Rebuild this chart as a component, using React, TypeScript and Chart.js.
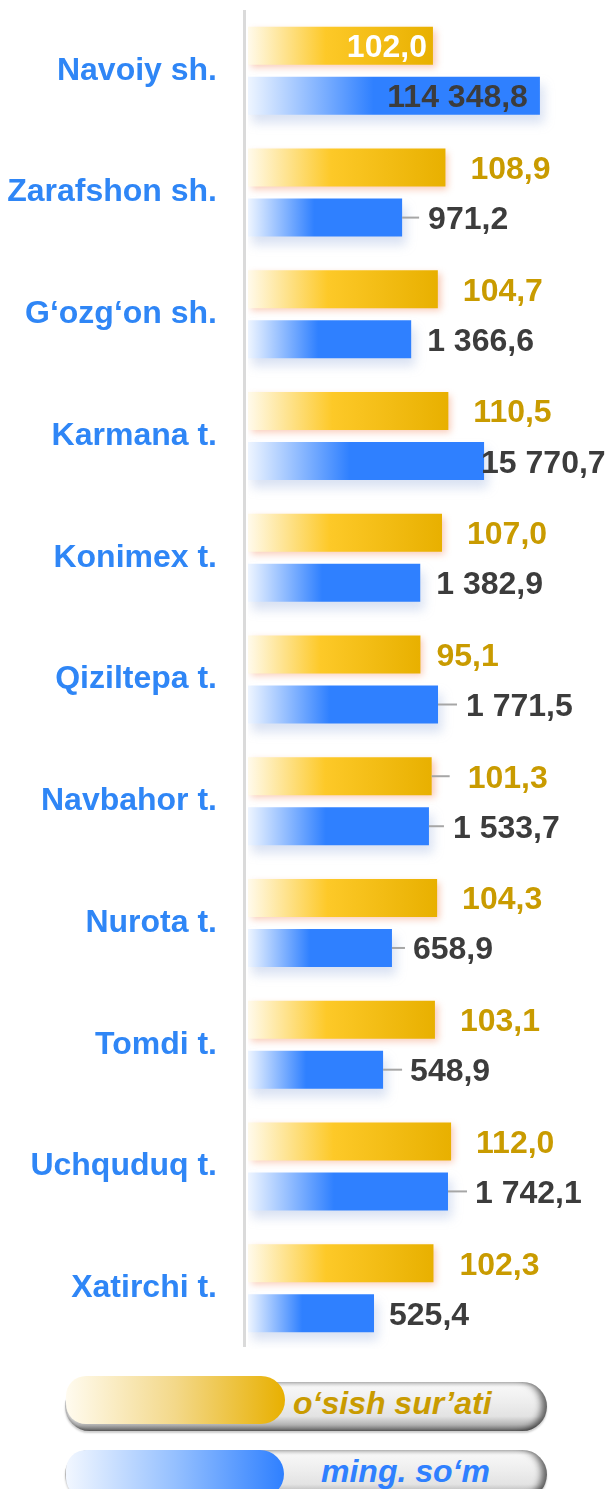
import React, { useEffect, useRef } from "react";
import { Chart, registerables } from "chart.js";

Chart.register(...registerables);

// ---------- data ----------
const categories = [
  "Navoiy sh.",
  "Zarafshon sh.",
  "G‘ozg‘on sh.",
  "Karmana t.",
  "Konimex t.",
  "Qiziltepa t.",
  "Navbahor t.",
  "Nurota t.",
  "Tomdi t.",
  "Uchquduq t.",
  "Xatirchi t.",
];

// o‘sish sur’ati (growth rate, %)
const growthRate = [102.0, 108.9, 104.7, 110.5, 107.0, 95.1, 101.3, 104.3, 103.1, 112.0, 102.3];

// ming. so‘m (thousand sum) – values as printed
const amountValues = [114348.8, 971.2, 1366.6, 15770.7, 1382.9, 1771.5, 1533.7, 658.9, 548.9, 1742.1, 525.4];

// blue bar lengths as drawn in the picture (not proportional to the amounts),
// expressed in the same axis units as the growth bars
const amountBarLength = [161, 85, 90, 130.2, 95, 104.8, 99.8, 79.4, 74.5, 110.3, 69.5];

const xAxisMax = 198;

const seriesNames = ["o‘sish sur’ati", "ming. so‘m"];

// ---------- label placement (layout, not data) ----------
// [mode, gap px, leader px]
const growthLabelPlacement: [string, number, number][] = [
  ["in", 6, 0], ["out", 25, 0], ["out", 25, 0], ["out", 25, 0], ["out", 25, 0], ["out", 16, 0],
  ["out", 36, 18], ["out", 25, 0], ["out", 25, 0], ["out", 25, 0], ["out", 26, 0],
];
const amountLabelPlacement: [string, number, number][] = [
  ["in", 12, 0], ["out", 26, 17], ["out", 16, 0], ["out", -3, 0], ["out", 16, 0], ["out", 28, 19],
  ["out", 24, 15], ["out", 21, 13], ["out", 27, 19], ["out", 27, 19], ["out", 15, 0],
];

// ---------- styles ----------
const FONT = '"Liberation Sans", Arial, sans-serif';
const FS = 32;
const LABEL_BLUE = "#2f86f6";
const GOLD_TEXT = "#c99b00";
const DARK_TEXT = "#3c3c3c";

const yellowStops: [number, string][] = [
  [0, "#fffaeb"],
  [0.42, "#fdc928"],
  [1, "#e8b000"],
];
const blueStops: [number, string][] = [
  [0, "#eef5ff"],
  [0.43, "#2f80ff"],
  [1, "#2f80ff"],
];

const fmt = (v: number) => {
  const [i, d] = v.toFixed(1).split(".");
  const withSpaces = i.replace(/\B(?=(\d{3})+(?!\d))/g, " ");
  return withSpaces + "," + d;
};

function barGradient(stops: [number, string][]) {
  return (ctx: any) => {
    const chart = ctx.chart;
    const area = chart.chartArea;
    if (!area || ctx.type !== "data") return stops[stops.length - 1][1];
    const xs = chart.scales.x;
    const x0 = xs.getPixelForValue(0);
    const x1 = xs.getPixelForValue(ctx.raw);
    const g = chart.ctx.createLinearGradient(x0, 0, Math.max(x1, x0 + 1), 0);
    stops.forEach(([o, c]) => g.addColorStop(o, c));
    return g;
  };
}

const axisLinePlugin = {
  id: "axisLine",
  beforeDatasetsDraw(chart: any) {
    const c = chart.ctx;
    const a = chart.chartArea;
    c.save();
    c.strokeStyle = "#dadada";
    c.lineWidth = 3;
    c.beginPath();
    c.moveTo(a.left - 3.5, a.top);
    c.lineTo(a.left - 3.5, a.bottom - 2);
    c.stroke();
    c.restore();
  },
};

const shadowPlugin = {
  id: "barShadow",
  beforeDatasetDraw(chart: any, args: any) {
    const c = chart.ctx;
    c.save();
    if (args.index === 0) {
      c.shadowColor = "rgba(240,120,70,0.38)";
      c.shadowBlur = 7;
      c.shadowOffsetX = 3;
      c.shadowOffsetY = 3;
    } else {
      c.shadowColor = "rgba(120,150,210,0.28)";
      c.shadowBlur = 10;
      c.shadowOffsetX = 4;
      c.shadowOffsetY = 8;
    }
  },
  afterDatasetDraw(chart: any) {
    chart.ctx.restore();
  },
};

const valueLabelPlugin = {
  id: "valueLabels",
  afterDatasetsDraw(chart: any) {
    const c = chart.ctx;
    c.save();
    c.font = `bold ${FS}px ${FONT}`;
    c.textBaseline = "alphabetic";
    const capHalf = FS * 0.358;
    [0, 1].forEach((di) => {
      const meta = chart.getDatasetMeta(di);
      meta.data.forEach((el: any, i: number) => {
        const text = di === 0 ? fmt(growthRate[i]) : fmt(amountValues[i]);
        const [mode, gap, leader] = di === 0 ? growthLabelPlacement[i] : amountLabelPlacement[i];
        const xEnd = el.x;
        const y = el.y;
        if (leader > 0) {
          c.strokeStyle = "#a6a6a6";
          c.lineWidth = 2;
          c.beginPath();
          c.moveTo(xEnd, y);
          c.lineTo(xEnd + leader, y);
          c.stroke();
        }
        if (mode === "in") {
          c.textAlign = "right";
          c.fillStyle = di === 0 ? "#ffffff" : DARK_TEXT;
          c.fillText(text, xEnd - gap, y + capHalf);
        } else {
          c.textAlign = "left";
          c.fillStyle = di === 0 ? GOLD_TEXT : DARK_TEXT;
          c.fillText(text, xEnd + gap, y + capHalf);
        }
      });
    });
    c.restore();
  },
};

function LegendPill(props: {
  top: number;
  blockTop: number;
  stops: [number, string][];
  blockWidth: number;
  text: string;
  color: string;
  textLeft: number;
  textTop: number;
}) {
  const grad =
    "linear-gradient(to right, " + props.stops.map(([o, c]) => `${c} ${o * 100}%`).join(", ") + ")";
  return (
    <>
      <div
        style={{
          position: "absolute",
          left: 65,
          top: props.top,
          width: 482,
          height: 49,
          borderRadius: 25,
          background:
            "linear-gradient(to bottom, #cfcfcf 0%, #f7f7f7 10%, #eeeeee 40%, #e3e3e3 70%, #b5b5b5 87%, #767676 100%)",
          boxShadow:
            "inset -7px -1px 7px -2px rgba(0,0,0,0.6), inset 3px 0 3px -1px rgba(0,0,0,0.25), 0 2px 2px rgba(0,0,0,0.2)",
        }}
      />
      <div
        style={{
          position: "absolute",
          left: 66,
          top: props.blockTop,
          width: props.blockWidth,
          height: 48,
          borderRadius: "20px 24px 24px 20px",
          background: grad,
        }}
      />
      <div
        style={{
          position: "absolute",
          left: props.textLeft,
          top: props.textTop,
          font: `italic bold ${FS}px ${FONT}`,
          lineHeight: `${FS}px`,
          color: props.color,
          whiteSpace: "nowrap",
        }}
      >
        {props.text}
      </div>
    </>
  );
}

export default function App() {
  const canvasRef = useRef<HTMLCanvasElement | null>(null);

  useEffect(() => {
    if (!canvasRef.current) return;
    const chart = new Chart(canvasRef.current, {
      type: "bar",
      data: {
        labels: categories,
        datasets: [
          {
            label: seriesNames[0],
            data: growthRate,
            backgroundColor: barGradient(yellowStops) as any,
            borderWidth: 0,
            barPercentage: 0.76,
            categoryPercentage: 0.8217,
          },
          {
            label: seriesNames[1],
            data: amountBarLength,
            backgroundColor: barGradient(blueStops) as any,
            borderWidth: 0,
            barPercentage: 0.76,
            categoryPercentage: 0.8217,
          },
        ],
      },
      options: {
        indexAxis: "y",
        responsive: false,
        animation: false,
        devicePixelRatio: 1,
        layout: { padding: { top: 10, bottom: 11, left: 0, right: 0 } },
        plugins: {
          legend: { display: false },
          tooltip: { enabled: false },
        },
        scales: {
          x: { type: "linear", min: 0, max: xAxisMax, display: false },
          y: {
            type: "category",
            grid: { display: false, drawTicks: false },
            border: { display: false },
            ticks: {
              padding: 31,
              color: LABEL_BLUE,
              font: { family: FONT, size: FS, weight: "bold" },
            },
            afterFit: (scale: any) => {
              scale.width = 248;
              scale.paddingTop = 0;
              scale.paddingBottom = 0;
            },
          },
        },
      },
      plugins: [axisLinePlugin, shadowPlugin, valueLabelPlugin],
    });
    return () => chart.destroy();
  }, []);

  return (
    <div
      style={{
        position: "fixed",
        left: 0,
        top: 0,
        width: 607,
        height: 1489,
        overflow: "hidden",
        background: "#ffffff",
      }}
    >
      <canvas ref={canvasRef} width={607} height={1360} style={{ position: "absolute", left: 0, top: 0 }} />
      <LegendPill
        top={1382}
        blockTop={1376}
        blockWidth={219}
        stops={[
          [0, "#fffbef"],
          [0.5, "#f3d889"],
          [1, "#e8b000"],
        ]}
        text={seriesNames[0]}
        color={GOLD_TEXT}
        textLeft={293}
        textTop={1387}
      />
      <LegendPill
        top={1450}
        blockTop={1450}
        blockWidth={218}
        stops={[
          [0, "#f2f7ff"],
          [0.5, "#95c0ff"],
          [1, "#2f80ff"],
        ]}
        text={seriesNames[1]}
        color="#2f80ff"
        textLeft={321}
        textTop={1455}
      />
    </div>
  );
}
